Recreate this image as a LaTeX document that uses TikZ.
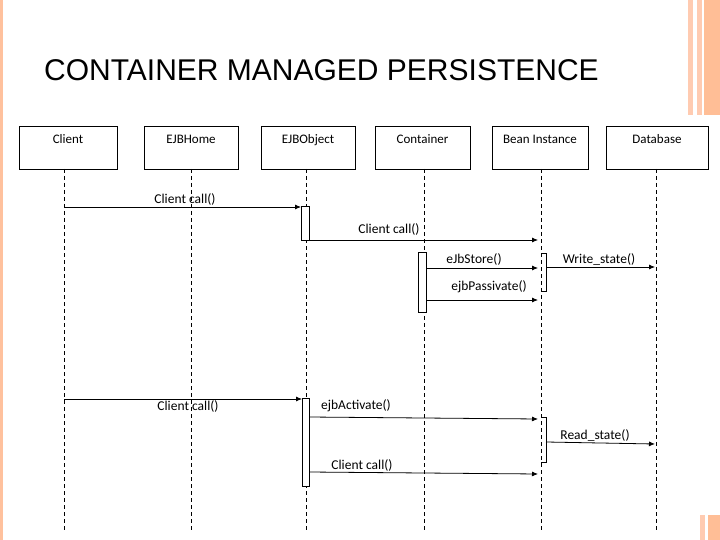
\documentclass[tikz,border=0pt]{standalone}
\usepackage{fontspec}
\setmainfont{Carlito}
\newfontfamily\titlefont{Liberation Sans}
\usetikzlibrary{arrows.meta}
\begin{document}
\begin{tikzpicture}[x=1pt,y=-1pt,
  obj/.style={draw,line width=0.7pt,minimum width=95pt,minimum height=43pt,text depth=0pt,anchor=north,font=\fontsize{13}{12}\selectfont,text height=9pt,align=center},
  life/.style={dashed,line width=0.6pt,dash pattern=on 4pt off 3pt},
  msg/.style={line width=0.8pt,-{Latex[length=6pt,width=5pt]}},
  act/.style={draw,fill=white,line width=0.7pt},
  lbl/.style={font=\fontsize{13.5}{14}\selectfont,inner sep=1pt}]
\useasboundingbox (0,0) rectangle (720,540);
\fill[white] (0,0) rectangle (720,540);
\fill[orange!40!pink!70] (0,0) rectangle (3,540);
\fill[orange!35!pink!60] (688,0) rectangle (693,115);
\fill[orange!35!pink!60] (697,0) rectangle (702,115);
\fill[orange!45!pink!70] (704,0) rectangle (720,115);
\fill[orange!35!pink!60] (700,515) rectangle (705,540);
\fill[orange!45!pink!70] (708,515) rectangle (720,540);
\node[anchor=west,font=\titlefont\fontsize{30}{30}\selectfont,inner sep=0pt] (title) at (44,70) {CONTAINER MANAGED PERSISTENCE};
% objects
\node[obj,minimum width=98pt] (client) at (68,126) {\raisebox{9pt}{Client}};
\node[obj,minimum width=94pt] (home) at (191,126) {\raisebox{9pt}{EJBHome}};
\node[obj,minimum width=94pt] (obj) at (308,126) {\raisebox{9pt}{EJBObject}};
\node[obj,minimum width=95pt] (cont) at (422.5,126) {\raisebox{9pt}{Container}};
\node[obj,minimum width=96pt] (bean) at (540,126) {\raisebox{9pt}{Bean Instance}};
\node[obj,minimum width=102pt] (db) at (657,126) {\raisebox{9pt}{Database}};
% lifelines
\foreach \n/\x in {client/64,home/191,obj/306,cont/424,bean/541,db/656}{
  \coordinate (\n e) at (\x,530);
  \draw[life] (\x,169) -- (\n e);
}
% activations
\node[act,minimum width=8pt,minimum height=34pt,inner sep=0pt,anchor=north] (a1) at (305,206) {};
\node[act,minimum width=8pt,minimum height=60pt,inner sep=0pt,anchor=north] (a2) at (422,252) {};
\node[act,minimum width=7pt,minimum height=88pt,inner sep=0pt,anchor=north] (a3) at (305.5,398) {};
\draw[line width=0.7pt] (541,253) -- (546,253) -- (546,291) -- (541,291);
\draw[line width=0.7pt] (541,417) -- (546,417) -- (546,462) -- (541,462);
% coordinates
\coordinate (c1) at (64,207); \coordinate (t1) at (301,207);
\coordinate (c2) at (309,240); \coordinate (t2) at (538,240);
\coordinate (c3) at (426,268); \coordinate (t3) at (538,268);
\coordinate (c4) at (546,267); \coordinate (t4) at (655,267);
\coordinate (c5) at (426,300); \coordinate (t5) at (538,300);
\coordinate (c6) at (64,399); \coordinate (t6) at (302,399);
\coordinate (c7) at (309,417); \coordinate (t7) at (538,419);
\coordinate (c8) at (546,442); \coordinate (t8) at (655,444);
\coordinate (c9) at (309,472); \coordinate (t9) at (538,474);
\draw[msg] (c1) -- (t1);
\draw[msg] (c2) -- (t2);
\draw[msg] (c3) -- (t3);
\draw[msg] (c4) -- (t4);
\draw[msg] (c5) -- (t5);
\draw[msg] (c6) -- (t6);
\draw[msg] (c7) -- (t7);
\draw[msg] (c8) -- (t8);
\draw[msg] (c9) -- (t9);
\node[lbl] (l1) at (185,199) {Client call()};
\node[lbl] (l2) at (389,229) {Client call()};
\node[lbl] (l3) at (474,259) {eJbStore()};
\node[lbl] (l4) at (599,259) {Write\_state()};
\node[lbl] (l5) at (489,287) {ejbPassivate()};
\node[lbl] (l6) at (188,406) {Client call()};
\node[lbl] (l7) at (356,406) {ejbActivate()};
\node[lbl] (l8) at (595,435) {Read\_state()};
\node[lbl] (l9) at (362,465) {Client call()};
\end{tikzpicture}
\end{document}
